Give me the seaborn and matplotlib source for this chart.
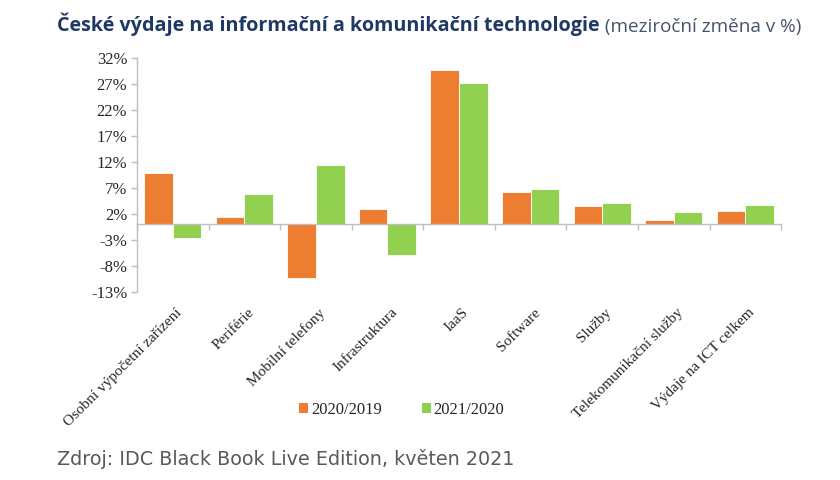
import pandas as pd
import seaborn as sns
import matplotlib.pyplot as plt
from matplotlib.transforms import blended_transform_factory
from matplotlib.patches import Patch

# data (year-on-year change, %)
categories = [
    "Osobní výpočetní zařízení",
    "Periférie",
    "Mobilní telefony",
    "Infrastruktura",
    "IaaS",
    "Software",
    "Služby",
    "Telekomunikační služby",
    "Výdaje na ICT celkem",
]
series_names = ["2020/2019", "2021/2020"]
change_2020 = [9.9, 1.4, -10.3, 2.9, 29.8, 6.3, 3.5, 0.8, 2.5]
change_2021 = [-2.7, 5.9, 11.5, -6.0, 27.2, 6.8, 4.1, 2.4, 3.7]
y_ticks = [-13, -8, -3, 2, 7, 12, 17, 22, 27, 32]

colors = ["#ED7D31", "#92D050"]
axis_grey = "#BFBFBF"

df = pd.DataFrame({
    "kategorie": categories * 2,
    "obdobi": [series_names[0]] * len(categories) + [series_names[1]] * len(categories),
    "zmena": change_2020 + change_2021,
})

sns.set_style("white")
plt.rcParams["font.family"] = ["Liberation Serif", "DejaVu Serif"]

fig = plt.figure(figsize=(8.4, 4.8), dpi=100)
ax = fig.add_axes([0.163, 0.392, 0.767, 0.487])

sns.barplot(
    data=df, x="kategorie", y="zmena", hue="obdobi",
    palette=colors, saturation=1, width=0.8, edgecolor="white", linewidth=0.6,
    legend=False, ax=ax,
)

ax.set_ylim(y_ticks[0], y_ticks[-1])
ax.set_xlim(-0.5, len(categories) - 0.5)
ax.set_yticks(y_ticks)
ax.set_yticklabels([f"{v}%" for v in y_ticks], fontsize=12, color="#262626")
ax.set_xlabel("")
ax.set_ylabel("")

# x axis line sits on zero, ticks between categories
ax.spines["bottom"].set_position(("data", 0))
ax.set_xticks([i - 0.5 for i in range(len(categories) + 1)])
ax.set_xticklabels([])
for side in ["top", "right"]:
    ax.spines[side].set_visible(False)
for side in ["left", "bottom"]:
    ax.spines[side].set_color(axis_grey)
    ax.spines[side].set_linewidth(1.0)
ax.tick_params(axis="both", which="major", direction="out", length=4,
               width=1, color=axis_grey, left=True, bottom=True)
ax.tick_params(axis="y", pad=3)

# rotated category labels under the plot area
trans = blended_transform_factory(ax.transData, ax.transAxes)
for i, name in enumerate(categories):
    ax.text(i + 0.04, -0.06, name, transform=trans, rotation=45,
            rotation_mode="anchor", ha="right", va="top",
            fontsize=11, color="#262626")

handles = [Patch(facecolor=c, edgecolor="none") for c in colors]
fig.legend(handles, series_names, loc="center", bbox_to_anchor=(0.478, 0.146),
           ncol=2, frameon=False, fontsize=12, handlelength=0.55,
           handleheight=0.55, handletextpad=0.15, columnspacing=2.4)

# title: bold part + regular note
t1 = fig.text(0.068, 0.925, "České výdaje na informační a komunikační technologie",
              fontsize=14.2, fontweight="bold", color="#1F3864",
              family="Open Sans", ha="left", va="bottom")
t2 = fig.text(0, 0, " (meziroční změna v %)", fontsize=13.6, color="#44546A",
              family="Open Sans", ha="left", va="bottom")
fig.canvas.draw()
bb = t1.get_window_extent()
t2.set_position((bb.x1 / fig.bbox.width, bb.y0 / fig.bbox.height + 0.001))

fig.text(0.068, 0.022, "Zdroj: IDC Black Book Live Edition, květen 2021",
         fontsize=13.8, color="#595959", family="DejaVu Sans",
         ha="left", va="bottom")

fig.savefig("out.png", dpi=100)
